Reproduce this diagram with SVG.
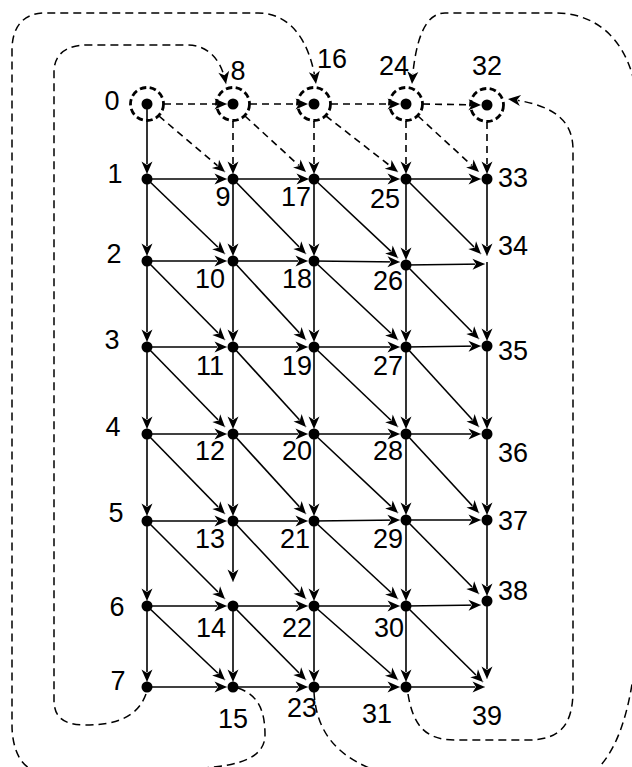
<svg xmlns="http://www.w3.org/2000/svg" width="632" height="767" viewBox="0 0 632 767">
<style>
.e{stroke:#000;stroke-width:1.6;fill:none;marker-end:url(#ah)}
.d{stroke-dasharray:7 5}
.c{stroke:#000;stroke-width:1.5;fill:none;stroke-dasharray:8 5;marker-end:url(#ah)}
.dot{fill:#000}
.ring{fill:none;stroke:#000;stroke-width:2.8;stroke-dasharray:6.5 3.5}
text{font-family:"Liberation Sans",Arial,Helvetica,sans-serif;font-size:27px;text-anchor:middle;fill:#000}
</style>
<defs>
<marker id="ah" viewBox="-1 -1 15 13" refX="12.5" refY="5.5" markerWidth="15" markerHeight="13" markerUnits="userSpaceOnUse" orient="auto">
<path d="M12.5,5.5 L0,0 L3.5,5.5 L0,11 Z" fill="#000" stroke="#fff" stroke-width="1" stroke-dasharray="none" paint-order="stroke"/>
</marker>
</defs>
<rect width="632" height="767" fill="#fff"/>
<g id="connectors">
<!-- outer dashed curves -->
<path class="c" d="M146,694 C138,716 118,725 85,725 C62,725 54,716 54,700 L54,72 C54,55 65,45 88,45 L187,45 C210,45 222,62 226,84"/>
<path class="c" d="M238,688 C258,695 265,710 265,735 C265,755 245,766 200,768 L40,771 C22,771 12,750 12,725 L12,50 C12,25 25,13 45,13 L258,13 C290,13 310,40 316,84"/>
<path class="c" d="M314,692 C316,730 335,760 390,775 L590,775 C625,750 638,680 638,600 L638,120 C638,45 600,13 555,13 L445,13 C425,13 415,40 412,84"/>
<path class="c" d="M408,694 C413,725 425,740 455,740 L528,740 C560,740 573,725 573,690 L573,150 C573,125 560,105 508,99"/>
<!-- row 0 dashed -->
<path class="e d" d="M164,104 L227,104"/>
<path class="e d" d="M250,104 L308,104"/>
<path class="e d" d="M331,104 L400,104"/>
<path class="e d" d="M423,104 L481,105"/>
<path class="e d" d="M233,121 L233,174"/>
<path class="e d" d="M314,121 L314,174"/>
<path class="e d" d="M406,121 L406,174"/>
<path class="e d" d="M487,122 L487,174"/>
<path class="e d" d="M159,116 L225,172"/>
<path class="e d" d="M245,116 L306,172"/>
<path class="e d" d="M326,116 L398,172"/>
<path class="e d" d="M418,116 L479,172"/>
<!-- verticals -->
<path class="e" d="M147,104 L147,174"/>
<path class="e" d="M147,179 L147,256"/>
<path class="e" d="M147,261 L147,342"/>
<path class="e" d="M147,347 L147,429"/>
<path class="e" d="M147,434 L147,516"/>
<path class="e" d="M147,521 L147,601"/>
<path class="e" d="M147,606 L147,682"/>
<path class="e" d="M233,179 L233,256"/>
<path class="e" d="M233,261 L233,342"/>
<path class="e" d="M233,347 L233,429"/>
<path class="e" d="M233,434 L233,516"/>
<path class="e" d="M233,521 L233,582"/>
<path class="e" d="M233,606 L233,682"/>
<path class="e" d="M314,179 L314,256"/>
<path class="e" d="M314,261 L314,342"/>
<path class="e" d="M314,347 L314,429"/>
<path class="e" d="M314,434 L314,516"/>
<path class="e" d="M314,521 L314,601"/>
<path class="e" d="M314,606 L314,682"/>
<path class="e" d="M406,179 L406,260"/>
<path class="e" d="M406,265 L406,342"/>
<path class="e" d="M406,347 L406,429"/>
<path class="e" d="M406,434 L406,515"/>
<path class="e" d="M406,520 L406,601"/>
<path class="e" d="M406,606 L406,682"/>
<path class="e" d="M487,179 L487,256"/>
<path class="e" d="M487,262 L487,341"/>
<path class="e" d="M487,346 L487,429"/>
<path class="e" d="M487,434 L487,515"/>
<path class="e" d="M487,520 L487,596"/>
<path class="e" d="M487,601 L487,679"/>
<!-- horizontals -->
<path class="e" d="M147,179 L227,179"/>
<path class="e" d="M233,179 L309,179"/>
<path class="e" d="M314,179 L400,179"/>
<path class="e" d="M406,179 L481,179"/>
<path class="e" d="M147,261 L227,261"/>
<path class="e" d="M233,261 L308,261"/>
<path class="e" d="M314,261 L400,262"/>
<path class="e" d="M406,265 L485,264"/>
<path class="e" d="M147,347 L227,347"/>
<path class="e" d="M233,347 L308,347"/>
<path class="e" d="M314,347 L400,347"/>
<path class="e" d="M406,347 L481,346"/>
<path class="e" d="M147,434 L227,434"/>
<path class="e" d="M233,434 L308,434"/>
<path class="e" d="M314,434 L400,434"/>
<path class="e" d="M406,434 L481,434"/>
<path class="e" d="M147,521 L227,521"/>
<path class="e" d="M233,521 L308,521"/>
<path class="e" d="M314,521 L400,520"/>
<path class="e" d="M406,520 L481,520"/>
<path class="e" d="M147,606 L227,606"/>
<path class="e" d="M233,606 L308,606"/>
<path class="e" d="M314,606 L400,606"/>
<path class="e" d="M406,606 L481,605"/>
<path class="e" d="M147,687 L227,687"/>
<path class="e" d="M233,687 L308,687"/>
<path class="e" d="M314,687 L400,687"/>
<path class="e" d="M406,687 L485,687"/>
<!-- diagonals -->
<path class="e" d="M147,179 L225,254"/>
<path class="e" d="M147,261 L225,340"/>
<path class="e" d="M147,347 L225,427"/>
<path class="e" d="M147,434 L225,514"/>
<path class="e" d="M147,521 L225,599"/>
<path class="e" d="M147,606 L225,680"/>
<path class="e" d="M233,179 L306,254"/>
<path class="e" d="M233,261 L306,340"/>
<path class="e" d="M233,347 L306,427"/>
<path class="e" d="M233,434 L306,514"/>
<path class="e" d="M233,521 L306,599"/>
<path class="e" d="M233,606 L306,680"/>
<path class="e" d="M314,179 L398,258"/>
<path class="e" d="M314,261 L398,340"/>
<path class="e" d="M314,347 L398,427"/>
<path class="e" d="M314,434 L398,513"/>
<path class="e" d="M314,521 L398,599"/>
<path class="e" d="M314,606 L398,680"/>
<path class="e" d="M406,179 L481,254"/>
<path class="e" d="M406,265 L479,339"/>
<path class="e" d="M406,347 L479,427"/>
<path class="e" d="M406,434 L479,513"/>
<path class="e" d="M406,520 L479,594"/>
<path class="e" d="M406,606 L483,682"/>
</g>
<g id="n0"><circle class="ring" cx="147" cy="104" r="16.5"/><circle class="dot" cx="147" cy="104" r="5.5"/><text x="112" y="110">0</text></g>
<g id="n1"><circle class="dot" cx="147" cy="179" r="5.5"/><text x="115" y="183">1</text></g>
<g id="n2"><circle class="dot" cx="147" cy="261" r="5.5"/><text x="114" y="263">2</text></g>
<g id="n3"><circle class="dot" cx="147" cy="347" r="5.5"/><text x="112" y="349">3</text></g>
<g id="n4"><circle class="dot" cx="147" cy="434" r="5.5"/><text x="113" y="436">4</text></g>
<g id="n5"><circle class="dot" cx="147" cy="521" r="5.5"/><text x="116" y="522">5</text></g>
<g id="n6"><circle class="dot" cx="147" cy="606" r="5.5"/><text x="117" y="616">6</text></g>
<g id="n7"><circle class="dot" cx="147" cy="687" r="5.5"/><text x="118" y="690">7</text></g>
<g id="n8"><circle class="ring" cx="233" cy="104" r="16.5"/><circle class="dot" cx="233" cy="104" r="5.5"/><text x="238" y="80">8</text></g>
<g id="n9"><circle class="dot" cx="233" cy="179" r="5.5"/><text x="223" y="206">9</text></g>
<g id="n10"><circle class="dot" cx="233" cy="261" r="5.5"/><text x="210" y="288">10</text></g>
<g id="n11"><circle class="dot" cx="233" cy="347" r="5.5"/><text x="210" y="375">11</text></g>
<g id="n12"><circle class="dot" cx="233" cy="434" r="5.5"/><text x="210" y="460">12</text></g>
<g id="n13"><circle class="dot" cx="233" cy="521" r="5.5"/><text x="210" y="548">13</text></g>
<g id="n14"><circle class="dot" cx="233" cy="606" r="5.5"/><text x="211" y="637">14</text></g>
<g id="n15"><circle class="dot" cx="233" cy="687" r="5.5"/><text x="233" y="728">15</text></g>
<g id="n16"><circle class="ring" cx="314" cy="104" r="16.5"/><circle class="dot" cx="314" cy="104" r="5.5"/><text x="332" y="68">16</text></g>
<g id="n17"><circle class="dot" cx="314" cy="179" r="5.5"/><text x="296" y="206">17</text></g>
<g id="n18"><circle class="dot" cx="314" cy="261" r="5.5"/><text x="297" y="288">18</text></g>
<g id="n19"><circle class="dot" cx="314" cy="347" r="5.5"/><text x="297" y="375">19</text></g>
<g id="n20"><circle class="dot" cx="314" cy="434" r="5.5"/><text x="297" y="460">20</text></g>
<g id="n21"><circle class="dot" cx="314" cy="521" r="5.5"/><text x="295" y="548">21</text></g>
<g id="n22"><circle class="dot" cx="314" cy="606" r="5.5"/><text x="297" y="637">22</text></g>
<g id="n23"><circle class="dot" cx="314" cy="687" r="5.5"/><text x="302" y="717">23</text></g>
<g id="n24"><circle class="ring" cx="406" cy="104" r="16.5"/><circle class="dot" cx="406" cy="104" r="5.5"/><text x="394" y="75">24</text></g>
<g id="n25"><circle class="dot" cx="406" cy="179" r="5.5"/><text x="385" y="208">25</text></g>
<g id="n26"><circle class="dot" cx="406" cy="265" r="5.5"/><text x="388" y="290">26</text></g>
<g id="n27"><circle class="dot" cx="406" cy="347" r="5.5"/><text x="388" y="375">27</text></g>
<g id="n28"><circle class="dot" cx="406" cy="434" r="5.5"/><text x="388" y="460">28</text></g>
<g id="n29"><circle class="dot" cx="406" cy="520" r="5.5"/><text x="388" y="548">29</text></g>
<g id="n30"><circle class="dot" cx="406" cy="606" r="5.5"/><text x="389" y="637">30</text></g>
<g id="n31"><circle class="dot" cx="406" cy="687" r="5.5"/><text x="377" y="723">31</text></g>
<g id="n32"><circle class="ring" cx="487" cy="105" r="16.5"/><circle class="dot" cx="487" cy="105" r="5.5"/><text x="487" y="75">32</text></g>
<g id="n33"><circle class="dot" cx="487" cy="179" r="5.5"/><text x="513" y="187">33</text></g>
<g id="n34"><text x="513" y="255">34</text></g>
<g id="n35"><circle class="dot" cx="487" cy="346" r="5.5"/><text x="513" y="360">35</text></g>
<g id="n36"><circle class="dot" cx="487" cy="434" r="5.5"/><text x="513" y="462">36</text></g>
<g id="n37"><circle class="dot" cx="487" cy="520" r="5.5"/><text x="513" y="530">37</text></g>
<g id="n38"><circle class="dot" cx="487" cy="601" r="5.5"/><text x="513" y="600">38</text></g>
<g id="n39"><text x="487" y="725">39</text></g>
</svg>
